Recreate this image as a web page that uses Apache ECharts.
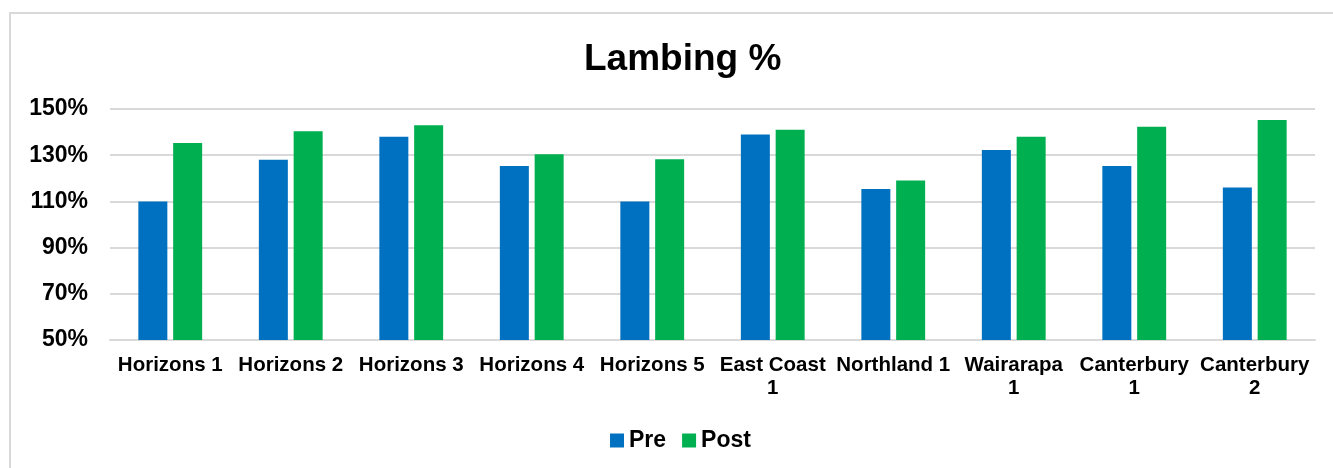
<!DOCTYPE html>
<html>
<head>
<meta charset="utf-8">
<script src="https://cdn.jsdelivr.net/npm/echarts@6/dist/echarts.min.js"></script>
<style>
html,body{margin:0;padding:0;background:#fff;}
#c{width:1333px;height:468px;}
</style>
</head>
<body>
<div id="c"></div>
<script>
var categories = ['Horizons 1','Horizons 2','Horizons 3','Horizons 4','Horizons 5','East Coast\n1','Northland 1','Wairarapa\n1','Canterbury\n1','Canterbury\n2'];
var preValues = [110, 128, 138, 125.3, 110, 139, 115.4, 132.2, 125.3, 116];
var postValues = [135.3, 140.4, 143, 130.4, 128.3, 141, 119, 138, 142.3, 145.2];
var yTicks = {min: 50, max: 150, interval: 20};

var chart = echarts.init(document.getElementById('c'), null, {renderer: 'canvas'});
var font = '"Liberation Sans", Arial, sans-serif';
chart.setOption({
  animation: false,
  backgroundColor: '#fff',
  textStyle: {fontFamily: font},
  graphic: [{
    type: 'rect', z: -1, silent: true,
    shape: {x: 10, y: 13, width: 1400, height: 470},
    style: {fill: 'none', stroke: '#d9d9d9', lineWidth: 2}
  }],
  title: {
    text: 'Lambing %', left: 579, top: 36,
    textStyle: {fontFamily: font, fontSize: 37, fontWeight: 'bold', color: '#000'}
  },
  legend: {
    top: 424, left: 605,
    itemWidth: 14, itemHeight: 14, itemGap: 16,
    icon: 'rect',
    textStyle: {fontFamily: font, fontSize: 23, fontWeight: 'bold', color: '#000'},
    data: ['Pre', 'Post']
  },
  grid: {left: 110, right: 18, top: 109, bottom: 128, containLabel: false},
  xAxis: {
    type: 'category', data: categories,
    axisLine: {show: true, lineStyle: {color: '#d9d9d9', width: 2}},
    axisTick: {show: false},
    axisLabel: {interval: 0, margin: 14, fontFamily: font, fontSize: 20.5, fontWeight: 'bold', color: '#000', lineHeight: 23}
  },
  yAxis: {
    type: 'value', min: yTicks.min, max: yTicks.max, interval: yTicks.interval,
    axisLine: {show: false}, axisTick: {show: false},
    splitLine: {lineStyle: {color: '#d9d9d9', width: 2}},
    axisLabel: {formatter: '{value}%', margin: 22, fontFamily: font, fontSize: 23, fontWeight: 'bold', color: '#000'}
  },
  series: [
    {name: 'Pre', type: 'bar', data: preValues, barWidth: 29, barGap: '20%', itemStyle: {color: '#0070C0'}},
    {name: 'Post', type: 'bar', data: postValues, barWidth: 29, barGap: '20%', itemStyle: {color: '#00B050'}}
  ]
});
</script>
</body>
</html>
